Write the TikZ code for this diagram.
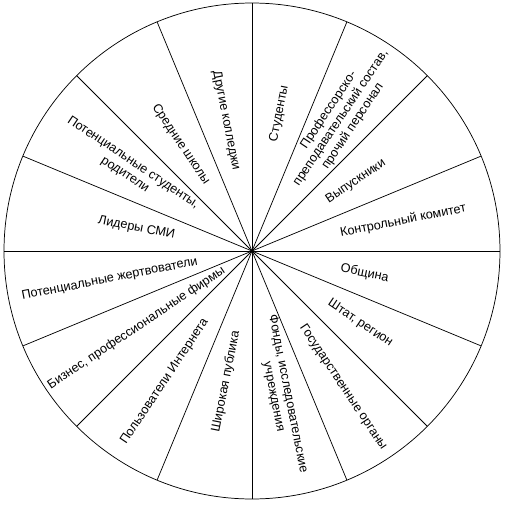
\documentclass[tikz,border=0pt]{standalone}
\usepackage{fontspec}
\setmainfont{Liberation Sans}
\begin{document}
\begin{tikzpicture}[font=\fontsize{8.7}{10}\selectfont, line width=0.5pt,
  lbl/.style={align=center, inner sep=1pt}]
	\useasboundingbox (-6.097,-6.145) rectangle (6.194,6.073);
	\draw (0:0) circle (6);
	\draw (0:6)--(180:6);
	\draw (22.5:6)--(202.5:6);
	\draw (45:6)--(225:6);
	\draw (67.5:6)--(247.5:6);
	\draw (90:6)--(270:6);
	\draw (112.5:6)--(292.5:6);
	\draw (135:6)--(315:6);
	\draw (157.5:6)--(337.5:6);
	% upper half
	\node[lbl, rotate=11.25] (komitet) at (11.25:3.73) {Контрольный комитет};
	\node[lbl, rotate=33.75] (vypusk) at (33.75:3.02) {Выпускники};
	\node[lbl, rotate=56.25] (prof) at (56.25:3.87) {Профессорско-\\преподавательский состав,\\прочий персонал};
	\node[lbl, rotate=78.75] (stud) at (78.75:3.39) {Студенты};
	\node[lbl, rotate=-78.75] (kolledzh) at (101.25:3.22) {Другие колледжи};
	\node[lbl, rotate=-56.25] (shkoly) at (123.75:3.10) {Средние школы};
	\node[lbl, rotate=-33.75] (roditeli) at (146.25:3.58) {Потенциальные студенты,\\родители};
	\node[lbl, rotate=-11.25] (smi) at (168.75:2.85) {Лидеры СМИ};
	% lower half
	\node[lbl, rotate=11.25] (zhertv) at (191.25:3.51) {Потенциальные жертвователи};
	\node[lbl, rotate=33.75] (biznes) at (213.75:3.36) {Бизнес, профессиональные фирмы};
	\node[lbl, rotate=56.25] (internet) at (236.25:3.80) {Пользователи Интернета};
	\node[lbl, rotate=78.75] (publika) at (258.75:3.22) {Широкая публика};
	\node[lbl, rotate=-78.75] (fondy) at (281.25:3.56) {Фонды, исследовательские\\учреждения};
	\node[lbl, rotate=-56.25] (organy) at (303.75:3.97) {Государственные органы};
	\node[lbl, rotate=-33.75] (shtat) at (326.25:3.15) {Штат, регион};
	\node[lbl, rotate=-11.25] (obshchina) at (348.75:2.78) {Община};
\end{tikzpicture}
\end{document}
